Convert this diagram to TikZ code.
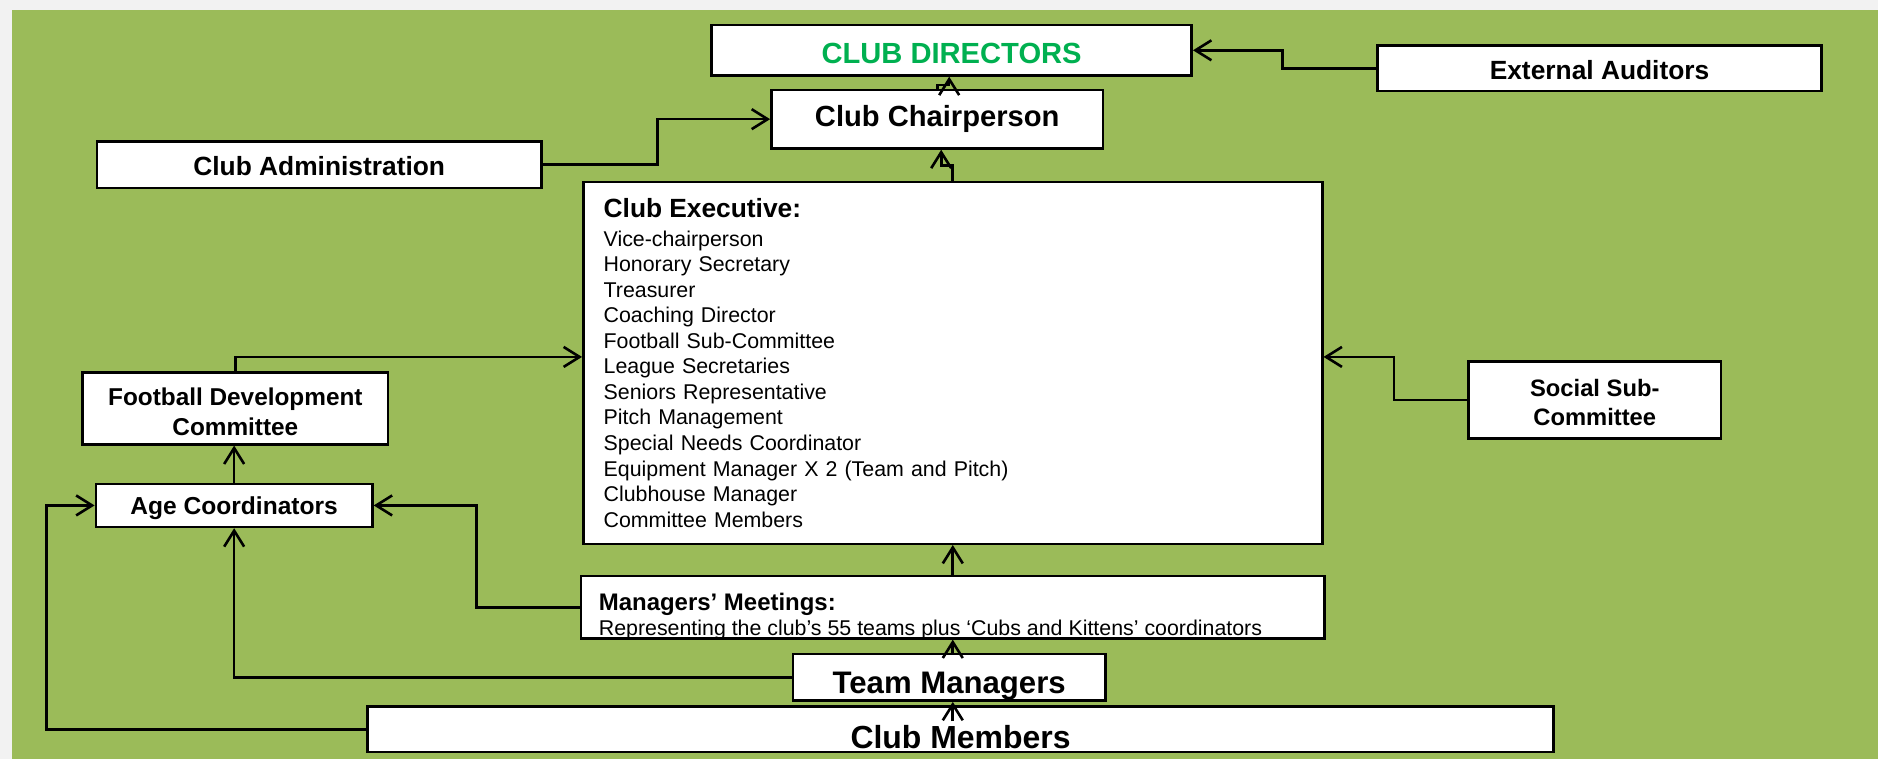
\documentclass[tikz,border=0pt]{standalone}
\usepackage{fontspec}
\setmainfont{Liberation Sans}
\usepackage{tikz}
\usetikzlibrary{arrows.meta}
\definecolor{clubgreen}{HTML}{9BBB59}
\definecolor{dirgreen}{HTML}{00B050}
\definecolor{pagegray}{HTML}{F2F2F2}
\newcommand{\fsz}[2]{\fontsize{#1}{#2}\selectfont}
\newcommand{\lift}[1]{\rule{0pt}{#1}}
\newcommand{\sink}[2]{\raisebox{-#1}[\height][\depth]{#2}}
\newcommand{\orgbox}[7][]{\node[unit, minimum width={(#5-#3)*0.6pt}, minimum height={(#6-#4)*0.6pt}, #1] (#2) at ({(#3+#5)/2},{(#4+#6)/2}) {#7};}
\tikzset{
    unit/.style={draw, fill=white, line width=1.25pt, inner sep=2pt, align=center},
    link/.style={line width=1.3pt, -{Straight Barb[length=8pt,width=10pt]}}
}

\begin{document}
\begin{tikzpicture}[x=0.6pt, y=-0.6pt]
        \useasboundingbox (0,0) rectangle (1568,634);
        \fill[pagegray] (0,0) rectangle (1568,634);
        \fill[clubgreen] (10,8) rectangle (1568,634);
        % top
        \orgbox[font=\bfseries\fsz{14.6}{17.5}, text=dirgreen]{directors}{594}{21}{995}{63}{\lift{13pt}CLUB DIRECTORS}
        \orgbox[font=\bfseries\fsz{13.2}{16}]{auditors}{1150}{38}{1521}{76}{\lift{11pt}External Auditors}
        \orgbox[font=\bfseries\fsz{14.6}{17.5}]{chair}{644}{75}{921}{124}{Club Chairperson}
        \orgbox[font=\bfseries\fsz{13.2}{16}]{admin}{81}{118}{452}{157}{\lift{11pt}Club Administration}
        % middle
        \orgbox[align=left, text width=349.8pt, inner xsep=10.2pt, font=\fsz{10.7}{12.8}]{exec}{487}{152}{1104}{454}{{\bfseries\fsz{13.2}{16}Club Executive:}\\[1.5pt]
            Vice-chairperson\\ Honorary Secretary\\ Treasurer\\ Coaching Director\\ Football Sub-Committee\\ League Secretaries\\
            Seniors Representative\\ Pitch Management\\ Special Needs Coordinator\\ Equipment Manager X 2 (Team and Pitch)\\
            Clubhouse Manager\\ Committee Members}
        \orgbox[font=\bfseries\fsz{12.2}{15}]{fdc}{69}{311}{324}{371}{\lift{12pt}Football Development\\ Committee}
        \orgbox[font=\bfseries\fsz{11.9}{14.4}]{social}{1226}{302}{1437}{366}{\lift{11pt}Social Sub-\\ Committee}
        \orgbox[font=\bfseries\fsz{12.3}{15}]{age}{80}{404}{311}{440}{\lift{12pt}Age Coordinators}
        % bottom
        \orgbox[font=\fsz{10.7}{12.6}]{meetings}{485}{481}{1106}{533}{\sink{4.5pt}{\parbox{354.6pt}{{\bfseries\fsz{12}{14}Managers’ Meetings:}\par
            Representing the club’s 55 teams plus ‘Cubs and Kittens’ coordinators}}}
        \orgbox[font=\bfseries\fsz{15.6}{18}]{managers}{662}{546}{923}{585}{\sink{4.6pt}{Team Managers}}
        \orgbox[font=\bfseries\fsz{16}{19}]{members}{307}{590}{1297}{628}{\sink{3.6pt}{Club Members}}
        % links top
        \draw[link] (auditors.west) -- ++(-78,0) |- (directors.east);
        \draw[link] (chair.north) -- ++(0,-3) -| ([xshift=6pt]chair.north |- directors.south);
        \draw[link] (admin.east) -- ++(96,0) |- (chair.west);
        \draw[link] (exec.north) -- ++(0,-13) -| ([xshift=2pt]chair.south);
        % links sides
        \draw[link] (fdc.north) |- ([yshift=3pt]exec.west);
        \draw[link] (social.west) -- ++(-61,0) |- ([yshift=3pt]exec.east);
        \draw[link] (age.north) -- (age.north |- fdc.south);
        % links bottom
        \draw[link] (meetings.west) -- ++(-86,0) |- (age.east);
        \draw[link] (meetings.north) -- (exec.south);
        \draw[link] (managers.north -| meetings.north) -- (meetings.south);
        \draw[link] (managers.west) -| (age.south);
        \draw[link] (members.west) -- ++(-267,0) |- (age.west);
        \draw[link] ([yshift=-8pt]members.north -| meetings.south) -- (managers.south -| meetings.south);
\end{tikzpicture}
\end{document}
